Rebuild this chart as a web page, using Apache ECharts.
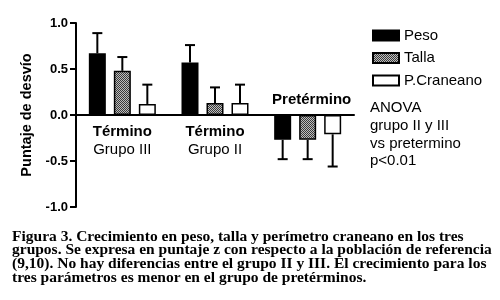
<!DOCTYPE html>
<html>
<head>
<meta charset="utf-8">
<script src="https://cdn.jsdelivr.net/npm/echarts@6/dist/echarts.min.js"></script>
<style>
  html, body { margin: 0; padding: 0; background: #fff; }
  #main { width: 500px; height: 300px; }
</style>
</head>
<body>
<div id="main"></div>
<script>
// categorias del eje x
const groups = ['Término\nGrupo III', 'Término\nGrupo II', 'Pretérmino'];
const seriesNames = ['Peso', 'Talla', 'P.Craneano'];

// puntaje z (medias) y desvio (solo un lado)
const pesoVals = [0.67, 0.57, -0.27];
const pesoErr = [0.22, 0.19, 0.21];
const tallaVals = [0.48, 0.13, -0.27];
const tallaErr = [0.15, 0.17, 0.21];
const craneoVals = [0.12, 0.13, -0.21];
const craneoErr = [0.21, 0.20, 0.35];

const yTicks = [-1.0, -0.5, 0.0, 0.5, 1.0];

const captionLines = [
  'Figura 3. Crecimiento en peso, talla y perímetro craneano en los tres',
  'grupos. Se expresa en puntaje z con respecto a la población de referencia',
  '(9,10). No hay diferencias entre el grupo II y III. El crecimiento para los',
  'tres parámetros es menor en el grupo de pretérminos.'
];
const anovaLines = ['ANOVA', 'grupo II y III', 'vs pretermino', 'p<0.01'];

const BAR_W = 17;
const BAR_GAP = 8;

// trama gris de "Talla"
function makePattern() {
  let c = document.createElement('canvas');
  c.width = 2; c.height = 2;
  let ctx = c.getContext('2d');
  ctx.fillStyle = '#bdbdbd';
  ctx.fillRect(0, 0, 2, 2);
  ctx.fillStyle = '#3a3a3a';
  ctx.fillRect(0, 0, 1, 1);
  ctx.fillRect(1, 1, 1, 1);
  return c;
}
const tallaFill = { image: makePattern(), repeat: 'repeat' };

function errSeries(vals, errs, idx) {
  return {
    type: 'custom',
    z: 3,
    silent: true,
    data: vals.map((v, i) => [i, v, errs[i]]),
    renderItem: function (params, api) {
      let v = api.value(1);
      let e = api.value(2);
      let end = v >= 0 ? v + e : v - e;
      let p0 = api.coord([api.value(0), v]);
      let p1 = api.coord([api.value(0), end]);
      let x = p0[0] + (idx - 1) * (BAR_W + BAR_GAP);
      let st = { stroke: '#000', lineWidth: 2 };
      return {
        type: 'group',
        children: [
          { type: 'line', shape: { x1: x, y1: p0[1], x2: x, y2: p1[1] }, style: st },
          { type: 'line', shape: { x1: x - 5, y1: p1[1], x2: x + 5, y2: p1[1] }, style: st }
        ]
      };
    }
  };
}

function barSeries(name, vals, fill) {
  return {
    name: name,
    type: 'bar',
    data: vals,
    barWidth: BAR_W,
    barGap: (BAR_GAP / BAR_W * 100) + '%',
    itemStyle: { color: fill, borderColor: '#000', borderWidth: 1.5 }
  };
}

// rotulos de grupo pegados al eje en y=0
function groupLabels(cats, pos) {
  return {
    type: 'scatter',
    symbolSize: 0,
    silent: true,
    z: 5,
    itemStyle: { opacity: 1, color: '#000' },
    data: cats.map(c => [c, 0]),
    label: {
      show: true, position: pos, distance: pos === 'top' ? 6 : 8,
      offset: pos === 'top' ? [4, 0] : [0, 0],
      color: '#000',
      formatter: function (p) {
        let parts = p.data[0].split('\n');
        return parts.length > 1
          ? '{b|' + parts[0] + '}\n{n|' + parts[1] + '}'
          : '{b|' + parts[0] + '}';
      },
      rich: {
        b: { fontWeight: 'bold', fontSize: 15, color: '#000', lineHeight: 18 },
        n: { fontSize: 15, color: '#000', lineHeight: 18 }
      }
    }
  };
}

let myChart = echarts.init(document.getElementById('main'));
let option = {
  backgroundColor: '#fff',
  animation: false,
  textStyle: { fontFamily: 'Liberation Sans' },
  title: [
    {
      text: captionLines.join('\n'),
      left: 12, top: 230, padding: 0,
      textStyle: { fontFamily: 'Liberation Serif', fontWeight: 'bold', fontSize: 15.5, lineHeight: 13.6, color: '#000' }
    },
    {
      text: anovaLines.join('\n'),
      left: 370, top: 99, padding: 0,
      textStyle: { fontFamily: 'Liberation Sans', fontWeight: 'normal', fontSize: 15, lineHeight: 17.8, color: '#000' }
    }
  ],
  legend: {
    data: seriesNames,
    orient: 'vertical',
    left: 372, top: 28, padding: 0,
    itemWidth: 26, itemHeight: 10,
    itemGap: 7.5,
    textStyle: { fontSize: 15, color: '#000' },
    icon: 'rect'
  },
  grid: { left: 76, right: 146, top: 23, bottom: 93 },
  xAxis: {
    type: 'category',
    data: groups,
    axisLine: { onZero: true, lineStyle: { color: '#000', width: 2 } },
    axisTick: { show: false },
    axisLabel: { show: false }
  },
  yAxis: {
    type: 'value',
    min: yTicks[0], max: yTicks[yTicks.length - 1], interval: 0.5,
    name: 'Puntaje de desvío',
    nameLocation: 'middle',
    nameGap: 36,
    nameTextStyle: { fontWeight: 'bold', fontSize: 14.5, color: '#000' },
    splitLine: { show: false },
    axisLine: { show: true, lineStyle: { color: '#000', width: 2 } },
    axisTick: { show: true, length: 6, lineStyle: { width: 2, color: '#000' } },
    axisLabel: {
      margin: 8, color: '#000', fontWeight: 'bold', fontSize: 13,
      formatter: v => v.toFixed(1)
    }
  },
  series: [
    barSeries('Peso', pesoVals, '#000'),
    barSeries('Talla', tallaVals, tallaFill),
    barSeries('P.Craneano', craneoVals, '#fff'),
    errSeries(pesoVals, pesoErr, 0),
    errSeries(tallaVals, tallaErr, 1),
    errSeries(craneoVals, craneoErr, 2),
    groupLabels(groups.slice(0, 2), 'bottom'),
    groupLabels(groups.slice(2), 'top')
  ]
};
myChart.setOption(option);
</script>
</body>
</html>
